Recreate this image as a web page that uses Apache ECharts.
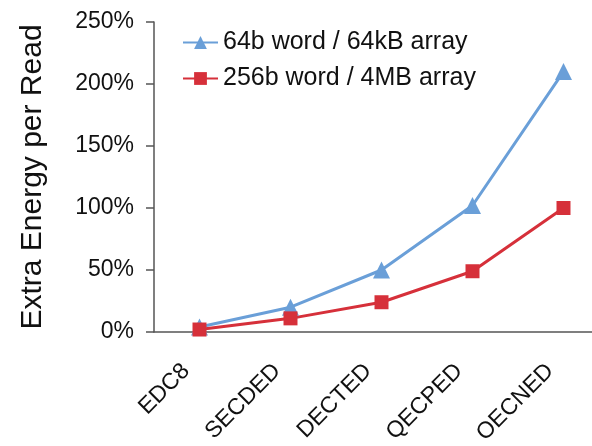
<!DOCTYPE html>
<html>
<head>
<meta charset="utf-8">
<script src="https://cdn.jsdelivr.net/npm/echarts@6/dist/echarts.min.js"></script>
<style>
html, body { margin: 0; padding: 0; background: #fff; }
#chart { width: 592px; height: 446px; }
</style>
</head>
<body>
<div id="chart"></div>
<script>
var categories = ['EDC8', 'SECDED', 'DECTED', 'QECPED', 'OECNED'];
var word64 = [4, 20, 50, 102, 210];
var word256 = [2, 11, 24, 49, 100];
var seriesNames = ['64b word / 64kB array', '256b word / 4MB array'];

var font = 'Liberation Sans, Arial, sans-serif';
var option = {
    animation: false,
    grid: { left: 154, top: 22, bottom: 114, right: -17, outerBoundsMode: 'none', containLabel: false },
    legend: {
        orient: 'vertical',
        left: 177,
        top: 25,
        itemWidth: 35,
        itemHeight: 16,
        itemGap: 11,
        textStyle: { fontFamily: font, fontSize: 25, color: '#111' },
        data: seriesNames
    },
    xAxis: {
        type: 'category',
        data: categories,
        boundaryGap: true,
        axisLine: { lineStyle: { color: '#555', width: 1.5 } },
        axisTick: { length: 8, lineStyle: { color: '#555', width: 1.5 } },
        axisLabel: {
            rotate: 45,
            margin: 22,
            padding: [0, 19, 0, 0],
            fontFamily: font,
            fontSize: 23,
            color: '#111'
        }
    },
    yAxis: {
        type: 'value',
        min: 0,
        max: 250,
        interval: 50,
        name: 'Extra Energy per Read',
        nameLocation: 'middle',
        nameGap: 106,
        nameTextStyle: { fontFamily: font, fontSize: 30, color: '#111' },
        axisLine: { show: true, lineStyle: { color: '#555', width: 1.5 } },
        axisTick: { show: true, length: 8, lineStyle: { color: '#555', width: 1.5 } },
        splitLine: { show: false },
        axisLabel: {
            formatter: '{value}%',
            margin: 20,
            fontFamily: font,
            fontSize: 23,
            color: '#111'
        }
    },
    series: [
        {
            name: seriesNames[0],
            type: 'line',
            data: word64,
            symbol: 'triangle',
            symbolSize: 17,
            itemStyle: { color: '#6a9fd8' },
            lineStyle: { color: '#6a9fd8', width: 3 }
        },
        {
            name: seriesNames[1],
            type: 'line',
            data: word256,
            symbol: 'rect',
            symbolSize: 14,
            itemStyle: { color: '#d6303a' },
            lineStyle: { color: '#d6303a', width: 3 }
        }
    ]
};
var myChart = echarts.init(document.getElementById('chart'));
myChart.setOption(option);
</script>
</body>
</html>
